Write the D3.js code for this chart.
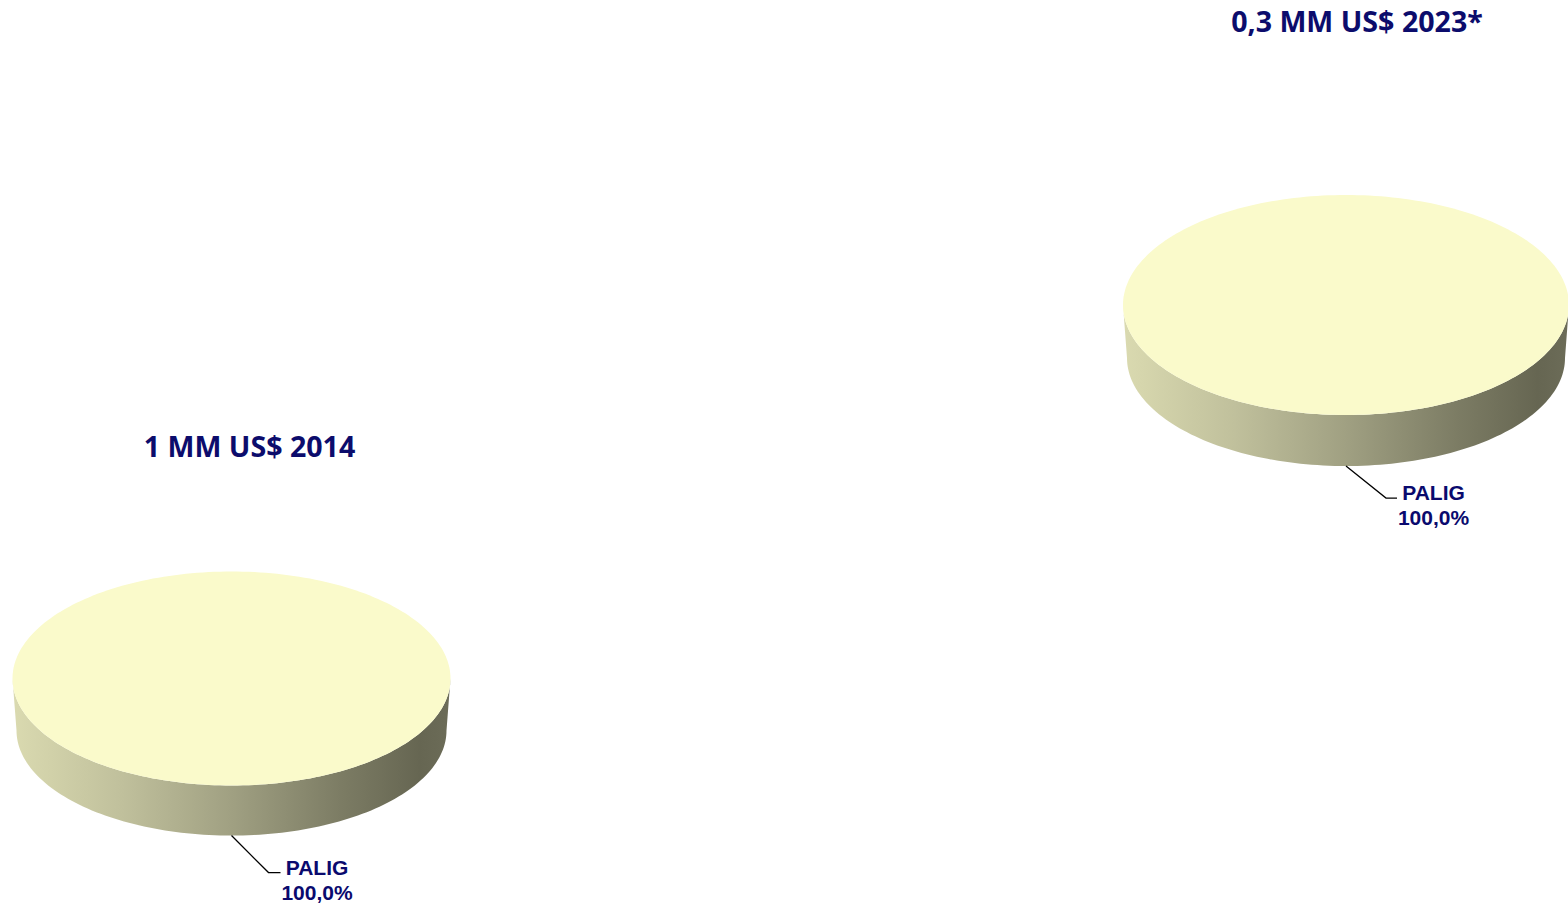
<!DOCTYPE html>
<html>
<head>
<meta charset="utf-8">
<script src="https://cdn.jsdelivr.net/npm/d3@7"></script>
<style>
  html, body { margin: 0; padding: 0; background: #ffffff; }
  svg { display: block; }
</style>
</head>
<body>
<svg id="chart" width="1568" height="907"></svg>
<script>
// ---- data ----
const categories = ["PALIG"];
const values2014 = [100.0];
const values2023 = [100.0];
const titles = ["1 MM US$ 2014", "0,3 MM US$ 2023*"];
const percentLabels2014 = ["100,0%"];
const percentLabels2023 = ["100,0%"];

// ---- layout ----
const layouts = [
  { values: values2014, labels: percentLabels2014, title: titles[0],
    cx: 231.5, cy: 678.5, rx: 219, ry: 107, depth: 52, shrink: 4,
    titleX: 249.5, titleY: 457, leadDx: 37, leadDy: 37, leadH: 12 },
  { values: values2023, labels: percentLabels2023, title: titles[1],
    cx: 1346, cy: 305, rx: 223, ry: 110, depth: 53, shrink: 4,
    titleX: 1357, titleY: 32, leadDx: 40, leadDy: 32, leadH: 11 }
];

const svg = d3.select("#chart");
const defs = svg.append("defs");
const sideGrad = defs.append("linearGradient")
  .attr("id", "sideGrad").attr("x1", "0%").attr("x2", "100%").attr("y1", "0%").attr("y2", "0%");
[[0, "#dadab0"], [0.25, "#c0c09c"], [0.5, "#a0a082"], [0.75, "#7c7c64"], [0.93, "#666652"], [1, "#6c6c58"]]
  .forEach(([o, c]) => sideGrad.append("stop").attr("offset", o).attr("stop-color", c));

const sliceColors = d3.scaleOrdinal().domain(categories).range(["#fafacb"]);
const titleColor = "#0c0c6c";
const labelColor = "#0a0a6e";

const pie = d3.pie().sort(null).value(d => d.value);

function ellPt(cx, cy, rx, ry, a) {
  return [cx + rx * Math.sin(a), cy - ry * Math.cos(a)];
}
function sample(a0, a1, n) {
  const out = [];
  for (let i = 0; i <= n; i++) out.push(a0 + (a1 - a0) * i / n);
  return out;
}

layouts.forEach(L => {
  const g = svg.append("g");
  const data = categories.map((c, i) => ({ cat: c, value: L.values[i], label: L.labels[i] }));
  const arcs = pie(data);
  const rxB = L.rx - L.shrink, ryB = L.ry - L.shrink * L.ry / L.rx;
  const line = d3.line();

  // side walls (front half only)
  arcs.forEach(d => {
    const s = Math.max(d.startAngle, Math.PI / 2);
    const e = Math.min(d.endAngle, 3 * Math.PI / 2);
    if (e <= s) return;
    const angs = sample(s, e, 120);
    const top = angs.map(a => ellPt(L.cx, L.cy, L.rx, L.ry, a));
    const bot = angs.slice().reverse().map(a => ellPt(L.cx, L.cy + L.depth, rxB, ryB, a));
    g.append("path")
      .attr("d", line(top.concat(bot)) + "Z")
      .attr("fill", "url(#sideGrad)");
  });

  // top faces
  arcs.forEach(d => {
    const full = (d.endAngle - d.startAngle) >= 2 * Math.PI - 1e-6;
    const angs = sample(d.startAngle, d.endAngle, 240);
    let pts = angs.map(a => ellPt(L.cx, L.cy, L.rx, L.ry, a));
    if (!full) pts = [[L.cx, L.cy]].concat(pts);
    g.append("path")
      .attr("d", line(pts) + "Z")
      .attr("fill", sliceColors(d.data.cat));
  });

  // labels with leader lines
  arcs.forEach(d => {
    const mid = (d.startAngle + d.endAngle) / 2;
    const p0 = ellPt(L.cx, L.cy + L.depth, rxB, ryB, mid);
    const p1 = [p0[0] + L.leadDx, p0[1] + L.leadDy];
    const p2 = [p1[0] + L.leadH, p1[1]];
    g.append("path")
      .attr("d", line([p0, p1, p2]))
      .attr("fill", "none").attr("stroke", "#000").attr("stroke-width", 1.3);
    const tx = p2[0] + 36.5;
    const t = g.append("text")
      .attr("x", tx).attr("y", p2[1] + 2)
      .attr("text-anchor", "middle")
      .attr("font-family", "'Liberation Sans', Arial, sans-serif")
      .attr("font-weight", "bold").attr("font-size", 21)
      .attr("fill", labelColor);
    t.append("tspan").attr("x", tx).text(d.data.cat);
    t.append("tspan").attr("x", tx).attr("dy", 25).text(d.data.label);
  });

  // title
  svg.append("text")
    .attr("x", L.titleX).attr("y", L.titleY)
    .attr("text-anchor", "middle")
    .attr("font-family", "'Open Sans', 'Noto Sans', sans-serif")
    .attr("font-weight", "bold").attr("font-size", 28.6)
    .attr("fill", titleColor)
    .text(L.title);
});
</script>
</body>
</html>
